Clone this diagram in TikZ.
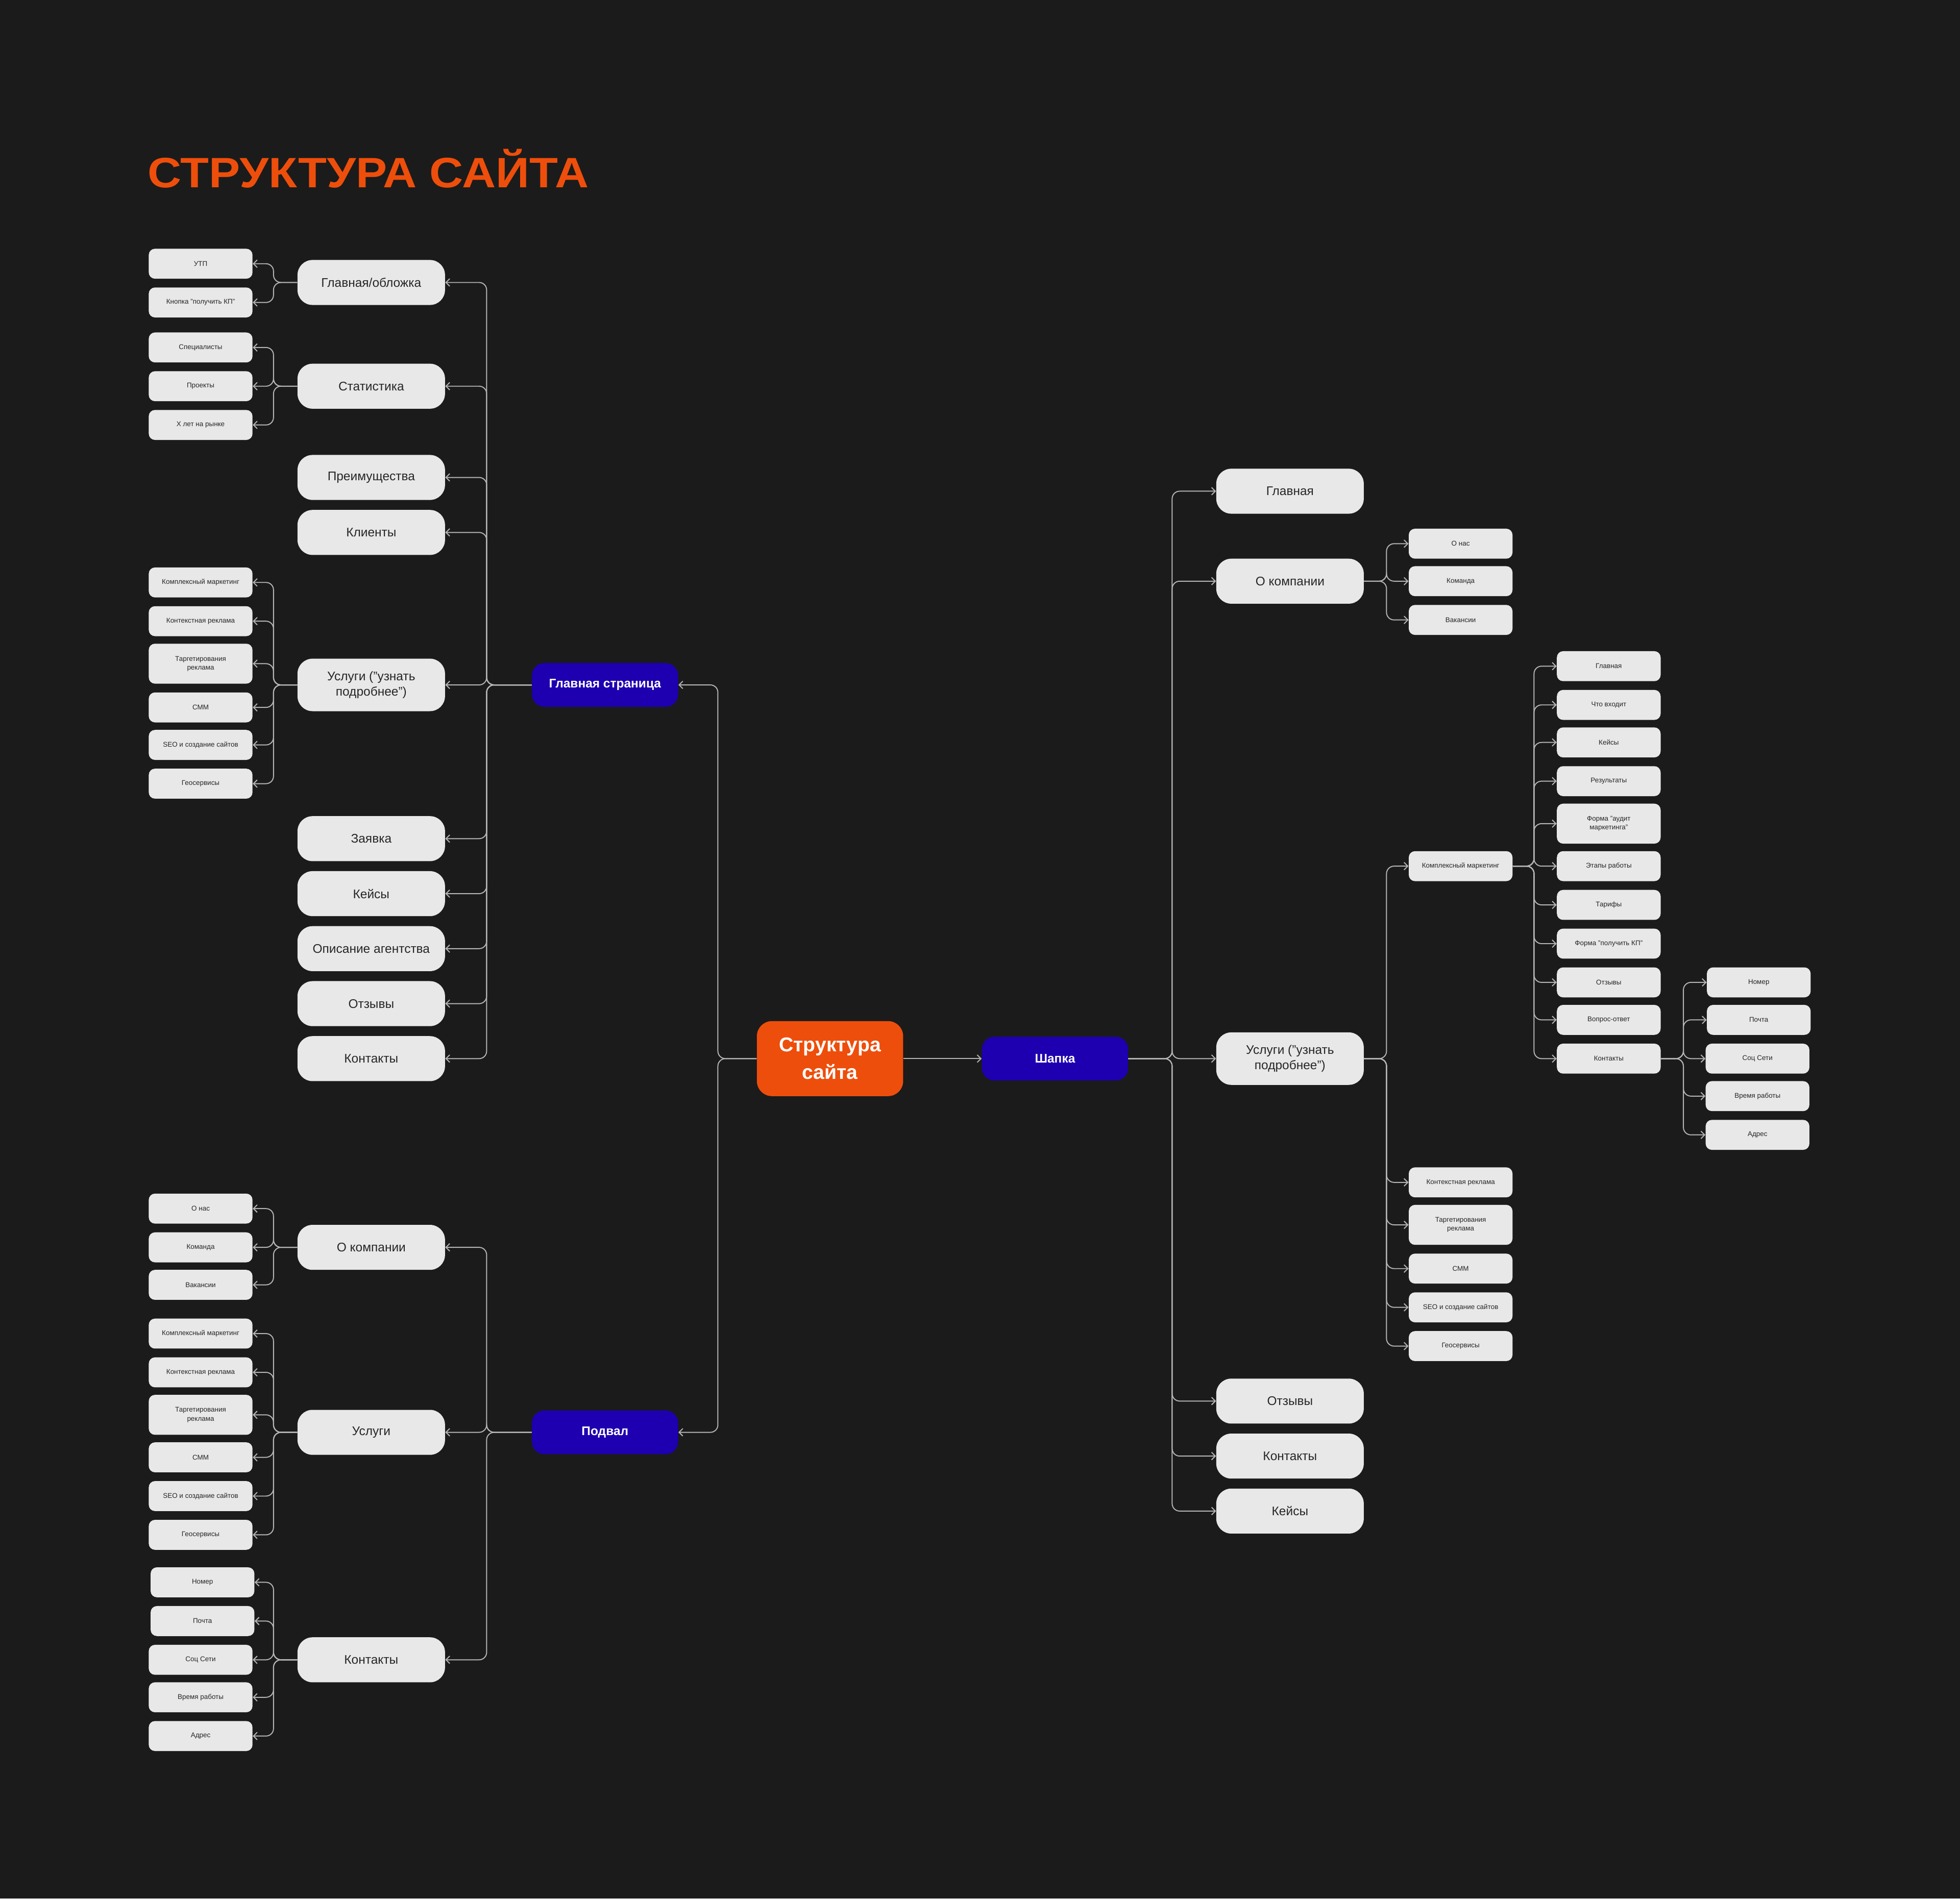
\documentclass[tikz,border=0pt]{standalone}
\usepackage{fontspec}
\setmainfont{Liberation Sans}
\usetikzlibrary{arrows.meta}
\definecolor{bg}{HTML}{1B1B1B}
\definecolor{orng}{HTML}{EE4E0B}
\definecolor{blu}{HTML}{1E00B0}
\definecolor{nd}{HTML}{E8E8E8}
\definecolor{ln}{HTML}{B5B5B5}
\tikzset{
 l2/.style={fill=nd,rounded corners=12pt,minimum width=118pt,minimum height=36pt,text=black!85,font=\fontsize{10}{12}\selectfont,align=center,inner sep=1pt},
 l2t/.style={l2,minimum height=42pt},
 lf/.style={fill=nd,rounded corners=5pt,minimum width=83pt,minimum height=24pt,text=black!85,font=\fontsize{5.5}{7}\selectfont,align=center,inner sep=1pt},
 lft/.style={lf,minimum height=32pt},
 bl/.style={fill=blu,rounded corners=10pt,minimum width=117pt,minimum height=35pt,text=white,font=\fontsize{10}{12}\selectfont\bfseries},
 conn/.style={draw=ln,line width=0.8pt,rounded corners=6pt,-{Straight Barb[length=3pt,width=6pt]}}
}
\newcommand{\lk}[3]{\draw[conn] (#1.west) -- ([xshift=#3]#1.west) |- (#2.east);}
\newcommand{\rk}[3]{\draw[conn] (#1.east) -- ([xshift=#3]#1.east) |- (#2.west);}
\begin{document}
\begin{tikzpicture}[x=1pt,y=-1pt]
\fill[bg] (0,0) rectangle (1568,1519);
\useasboundingbox (0,0) rectangle (1568,1519);
\node[anchor=west,text=orng,font=\fontsize{34}{36}\selectfont\bfseries,xscale=1.1,inner sep=0] (title) at (118,135) {СТРУКТУРА САЙТА};

\node[fill=orng,rounded corners=12pt,minimum width=117pt,minimum height=60pt,text=white,font=\fontsize{16}{22}\selectfont\bfseries,align=center] (c) at (664,847) {Структура\\сайта};
\node[bl] (sh) at (844,847) {Шапка};
\node[bl] (gs) at (484,548) {Главная страница};
\node[bl] (pd) at (484,1146) {Подвал};
\draw[conn] (c.east) -- (sh.west);
\lk{c}{gs}{-31}
\lk{c}{pd}{-31}

% Главная страница
\node[l2] (g1) at (297,226) {Главная/обложка};
\node[l2] (g2) at (297,309) {Статистика};
\node[l2] (g3) at (297,382) {Преимущества};
\node[l2] (g4) at (297,426) {Клиенты};
\node[l2t] (g5) at (297,548) {Услуги ("узнать\\подробнее")};
\node[l2] (g6) at (297,671) {Заявка};
\node[l2] (g7) at (297,715) {Кейсы};
\node[l2] (g8) at (297,759) {Описание агентства};
\node[l2] (g9) at (297,803) {Отзывы};
\node[l2] (g10) at (297,847) {Контакты};
\foreach \i in {1,...,10}{\lk{gs}{g\i}{-36}}

\node[lf] (a1) at (160.5,211) {УТП};
\node[lf] (a2) at (160.5,242) {Кнопка "получить КП"};
\lk{g1}{a1}{-19}\lk{g1}{a2}{-19}
\node[lf] (b1) at (160.5,278) {Специалисты};
\node[lf] (b2) at (160.5,309) {Проекты};
\node[lf] (b3) at (160.5,340) {X лет на рынке};
\foreach \i in {1,2,3}{\lk{g2}{b\i}{-19}}
\node[lf] (u1) at (160.5,466) {Комплексный маркетинг};
\node[lf] (u2) at (160.5,497) {Контекстная реклама};
\node[lft] (u3) at (160.5,531) {Таргетирования\\реклама};
\node[lf] (u4) at (160.5,566) {СММ};
\node[lf] (u5) at (160.5,596) {SEO и создание сайтов};
\node[lf] (u6) at (160.5,627) {Геосервисы};
\foreach \i in {1,...,6}{\lk{g5}{u\i}{-19}}

% Подвал
\node[l2] (p1) at (297,998) {О компании};
\node[l2] (p2) at (297,1146) {Услуги};
\node[l2] (p3) at (297,1328) {Контакты};
\foreach \i in {1,2,3}{\lk{pd}{p\i}{-36}}
\node[lf] (q1) at (160.5,967) {О нас};
\node[lf] (q2) at (160.5,998) {Команда};
\node[lf] (q3) at (160.5,1028) {Вакансии};
\foreach \i in {1,2,3}{\lk{p1}{q\i}{-19}}
\node[lf] (r1) at (160.5,1067) {Комплексный маркетинг};
\node[lf] (r2) at (160.5,1098) {Контекстная реклама};
\node[lft] (r3) at (160.5,1132) {Таргетирования\\реклама};
\node[lf] (r4) at (160.5,1166) {СММ};
\node[lf] (r5) at (160.5,1197) {SEO и создание сайтов};
\node[lf] (r6) at (160.5,1228) {Геосервисы};
\foreach \i in {1,...,6}{\lk{p2}{r\i}{-19}}
\node[lf] (s1) at (162,1266) {Номер};
\node[lf] (s2) at (162,1297) {Почта};
\node[lf] (s3) at (160.5,1328) {Соц Сети};
\node[lf] (s4) at (160.5,1358) {Время работы};
\node[lf] (s5) at (160.5,1389) {Адрес};
\foreach \i in {1,...,5}{\lk{p3}{s\i}{-19}}

% Шапка
\node[l2] (h1) at (1032,393) {Главная};
\node[l2] (h2) at (1032,465) {О компании};
\node[l2t] (h3) at (1032,847) {Услуги ("узнать\\подробнее")};
\node[l2] (h4) at (1032,1121) {Отзывы};
\node[l2] (h5) at (1032,1165) {Контакты};
\node[l2] (h6) at (1032,1209) {Кейсы};
\foreach \i in {1,...,6}{\rk{sh}{h\i}{35}}
\node[lf] (k1) at (1168.5,435) {О нас};
\node[lf] (k2) at (1168.5,465) {Команда};
\node[lf] (k3) at (1168.5,496) {Вакансии};
\foreach \i in {1,2,3}{\rk{h2}{k\i}{18}}
\node[lf] (m1) at (1168.5,693) {Комплексный маркетинг};
\node[lf] (m2) at (1168.5,946) {Контекстная реклама};
\node[lft] (m3) at (1168.5,980) {Таргетирования\\реклама};
\node[lf] (m4) at (1168.5,1015) {СММ};
\node[lf] (m5) at (1168.5,1046) {SEO и создание сайтов};
\node[lf] (m6) at (1168.5,1077) {Геосервисы};
\foreach \i in {1,...,6}{\rk{h3}{m\i}{18}}
\node[lf] (n1) at (1287,533) {Главная};
\node[lf] (n2) at (1287,564) {Что входит};
\node[lf] (n3) at (1287,594) {Кейсы};
\node[lf] (n4) at (1287,625) {Результаты};
\node[lft] (n5) at (1287,659) {Форма "аудит\\маркетинга"};
\node[lf] (n6) at (1287,693) {Этапы работы};
\node[lf] (n7) at (1287,724) {Тарифы};
\node[lf] (n8) at (1287,755) {Форма "получить КП"};
\node[lf] (n9) at (1287,786) {Отзывы};
\node[lf] (n10) at (1287,816) {Вопрос-ответ};
\node[lf] (n11) at (1287,847) {Контакты};
\foreach \i in {1,...,11}{\rk{m1}{n\i}{17}}
\node[lf] (o1) at (1407,786) {Номер};
\node[lf] (o2) at (1407,816) {Почта};
\node[lf] (o3) at (1406,847) {Соц Сети};
\node[lf] (o4) at (1406,877) {Время работы};
\node[lf] (o5) at (1406,908) {Адрес};
\foreach \i in {1,...,5}{\rk{n11}{o\i}{18}}
\end{tikzpicture}
\end{document}
